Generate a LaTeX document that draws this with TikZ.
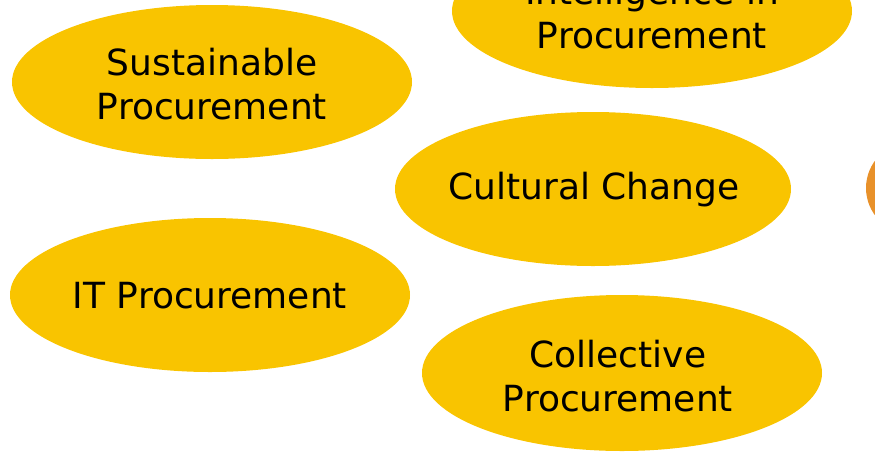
\documentclass[tikz,border=0pt]{standalone}
\usepackage{fontspec}
\setmainfont{DejaVu Sans}
\definecolor{blobyellow}{RGB}{249,196,0}
\definecolor{bloborange}{RGB}{232,145,42}
\begin{document}
\begin{tikzpicture}[x=1pt,y=-1pt,
  lbl/.style={align=center,inner sep=0pt,font=\fontsize{36}{44}\selectfont,text=black}]
\useasboundingbox (0,0) rectangle (875,451);
\clip (0,0) rectangle (875,451);
\fill[blobyellow] (652,11) ellipse [x radius=200, y radius=77];
\fill[blobyellow] (212,82) ellipse [x radius=200, y radius=77];
\fill[blobyellow] (593,189) ellipse [x radius=198, y radius=77];
\fill[blobyellow] (210,295) ellipse [x radius=200, y radius=77];
\fill[blobyellow] (622,373) ellipse [x radius=200, y radius=78];
\fill[bloborange] (912,188) circle [radius=46];
\node[lbl] (intel) at (652,13) {Intelligence in\\Procurement};
\node[lbl] (sust) at (212,84) {Sustainable\\Procurement};
\node[lbl] (cult) at (594,190) {Cultural Change};
\node[lbl] (itp) at (210,296) {IT Procurement};
\node[lbl] (coll) at (618,376) {Collective\\Procurement};
\end{tikzpicture}
\end{document}
